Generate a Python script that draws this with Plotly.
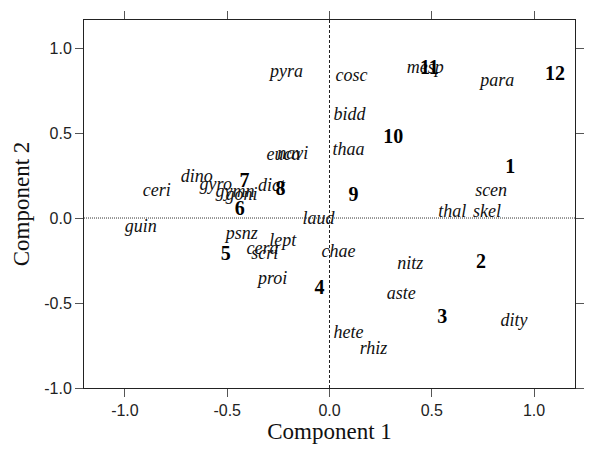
import plotly.graph_objects as go

# Sample (numbered) scores
sample_labels = ["1", "2", "3", "4", "5", "6", "7", "8", "9", "10", "11", "12"]
sample_x = [0.883, 0.741, 0.551, -0.049, -0.507, -0.439, -0.415, -0.239, 0.117, 0.312, 0.488, 1.102]
sample_y = [0.294, -0.265, -0.588, -0.418, -0.218, 0.047, 0.212, 0.165, 0.129, 0.471, 0.876, 0.841]

# Taxon scores
taxa_labels = ["pyra", "cosc", "mesp", "para", "bidd", "thaa", "euca", "navi",
               "dino", "ceri", "gyro", "gymn", "goni", "dict", "guin", "psnz",
               "lept", "cera", "scri", "proi", "laud", "chae", "nitz", "aste",
               "hete", "rhiz", "dity", "thal", "skel", "scen"]
taxa_x = [-0.210, 0.107, 0.468, 0.820, 0.098, 0.093, -0.225, -0.180,
          -0.649, -0.844, -0.556, -0.462, -0.430, -0.283, -0.922, -0.429,
          -0.229, -0.327, -0.317, -0.278, -0.054, 0.044, 0.395, 0.351,
          0.093, 0.215, 0.902, 0.600, 0.770, 0.790]
taxa_y = [0.859, 0.835, 0.882, 0.806, 0.606, 0.400, 0.370, 0.376,
          0.241, 0.159, 0.194, 0.150, 0.132, 0.188, -0.053, -0.094,
          -0.141, -0.188, -0.212, -0.359, -0.006, -0.200, -0.276, -0.447,
          -0.682, -0.776, -0.606, 0.035, 0.035, 0.159]

x_ticks = [-1.0, -0.5, 0.0, 0.5, 1.0]
y_ticks = [-1.0, -0.5, 0.0, 0.5, 1.0]

fig = go.Figure()
fig.add_trace(go.Scatter(
    x=taxa_x, y=taxa_y, mode="text", text=taxa_labels,
    textfont=dict(family="Liberation Serif", size=18, color="#111", style="italic"),
    hoverinfo="skip", showlegend=False))
fig.add_trace(go.Scatter(
    x=sample_x, y=sample_y, mode="text", text=sample_labels,
    textfont=dict(family="Liberation Serif", size=20, color="#000", weight="bold"),
    hoverinfo="skip", showlegend=False))

fig.add_shape(type="line", xref="x", yref="paper", x0=0, x1=0, y0=0, y1=1,
              line=dict(color="#222", width=1, dash="3px,2px"))
fig.add_shape(type="line", xref="paper", yref="y", x0=0, x1=1, y0=0, y1=0,
              line=dict(color="#333", width=1, dash="1px,1px"))

axis_common = dict(showgrid=False, zeroline=False, showline=True, linecolor="#222",
                   linewidth=1, mirror="ticks", ticks="outside", ticklen=8,
                   tickcolor="#555", tickwidth=1,
                   tickfont=dict(family="Liberation Sans", size=16, color="#222"))

fig.update_layout(
    width=603, height=454,
    margin=dict(l=84, r=28, t=20, b=66),
    plot_bgcolor="white", paper_bgcolor="white",
    xaxis=dict(range=[-1.2, 1.2], tickvals=x_ticks,
               ticktext=[f"{v:.1f}" for v in x_ticks],
               title=dict(text="Component 1", standoff=2,
                          font=dict(family="Liberation Serif", size=23, color="#111")),
               **axis_common),
    yaxis=dict(range=[-1.0, 1.165], tickvals=y_ticks,
               ticktext=[f"{v:.1f}" for v in y_ticks],
               title=dict(text="Component 2", standoff=8,
                          font=dict(family="Liberation Serif", size=23, color="#111")),
               **axis_common),
)

fig.write_html("out.html")
